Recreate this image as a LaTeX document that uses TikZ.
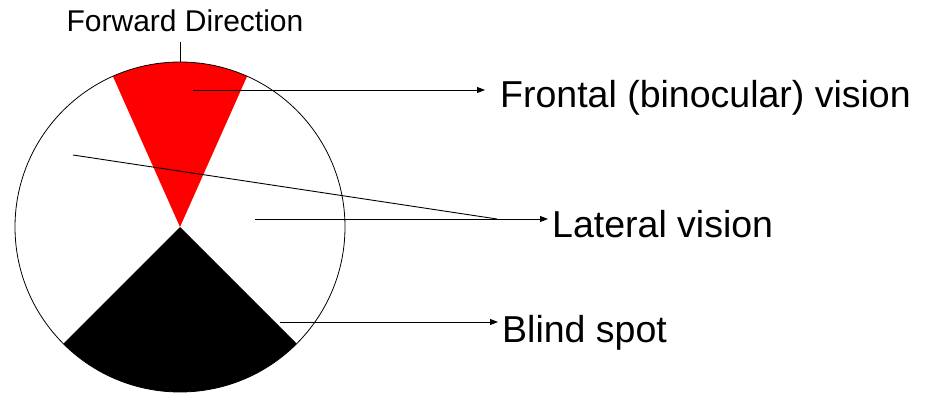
\documentclass[tikz,border=0pt]{standalone}
\usepackage{fontspec}
\setmainfont{Liberation Sans}
\usetikzlibrary{arrows.meta, positioning, calc}

\begin{document}
\begin{tikzpicture}[
    x=1pt, y=1pt,
    lbl/.style={inner sep=0pt, anchor=base west, font=\fontsize{37.5}{40}\selectfont},
    toplbl/.style={inner sep=0pt, anchor=base, font=\fontsize{30}{32}\selectfont},
    lead/.style={line width=0.9pt},
    arr/.style={-{Triangle[length=8pt, width=6pt]}, line width=0.9pt}
]
    \useasboundingbox (0,0) rectangle (935,394);
    \coordinate (c) at (180,167);

    % sectors
    \fill[red] (c) -- ++(66:165) arc[start angle=66, end angle=114, radius=165] -- cycle;
    \fill[black] (c) -- ++(225:165) arc[start angle=225, end angle=315, radius=165] -- cycle;
    \node (eye) [circle, draw, line width=0.8pt, minimum size=330pt, inner sep=0pt] at (c) {};

    \node (forward) [toplbl] at (185,362) {Forward Direction};
    \node (frontal) [lbl] at (500,286) {Frontal (binocular) vision};
    \node (lateral) [lbl] at (552,156) {Lateral vision};
    \node (blind) [lbl] at (502,52) {Blind spot};

    \coordinate (fr) at (193,304);
    \coordinate (la1) at (73,239);
    \coordinate (la2) at (255,175);
    \coordinate (lj) at (497,175);
    \coordinate (bl) at (280,72);

    \draw[lead, shorten <=10pt] (eye.north |- forward.south) -- (eye.north);
    \draw[arr, shorten >=15pt] (fr) -- (fr -| frontal.west);
    \draw[lead] (la1) -- (lj);
    \draw[arr, shorten >=4pt] (la2) -- (la2 -| lateral.west);
    \draw[arr, shorten >=4pt] (bl) -- (bl -| blind.west);
\end{tikzpicture}
\end{document}
